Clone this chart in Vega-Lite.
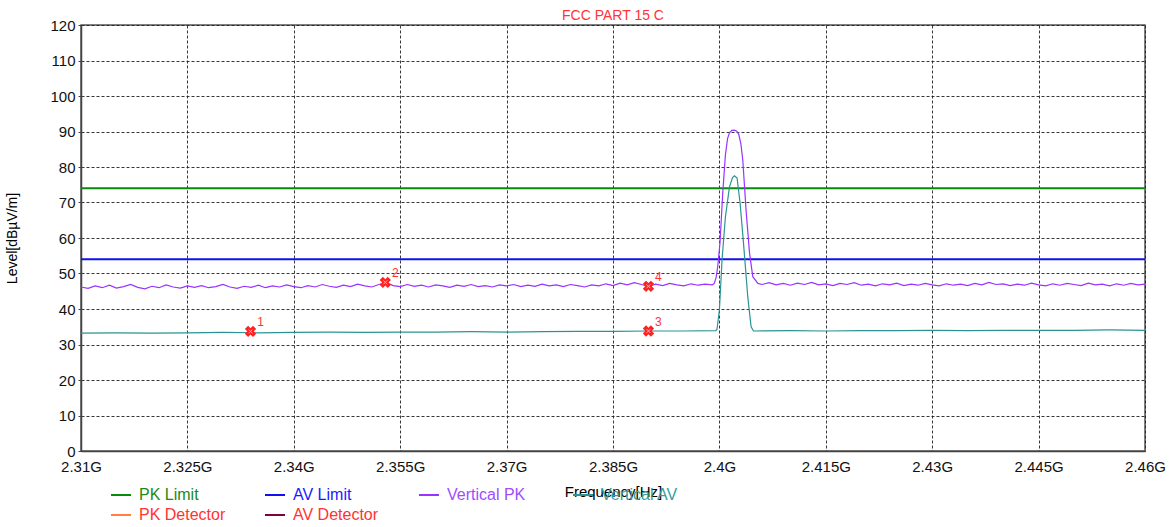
{
  "$schema": "https://vega.github.io/schema/vega-lite/v6.json",
  "width": 1064,
  "height": 426,
  "autosize": {"type": "none"},
  "padding": {"left": 81, "top": 25, "right": 28, "bottom": 76},
  "background": "white",
  "config": {
    "font": "Liberation Sans",
    "view": {"stroke": "#555", "strokeWidth": 1.5}
  },
  "title": {"text": "FCC PART 15 C", "color": "#ff3333", "fontSize": 14, "fontWeight": "normal", "font": "Liberation Sans", "offset": -5, "anchor": "middle"},
  "datasets": {
    "limits": [
      {"series": "PK Limit", "freq": 2.31, "level": 74},
      {"series": "PK Limit", "freq": 2.46, "level": 74},
      {"series": "AV Limit", "freq": 2.31, "level": 54},
      {"series": "AV Limit", "freq": 2.46, "level": 54}
    ],
    "traces": [
      {"series": "Vertical AV", "freq": 2.310, "level": 33.2},
      {"series": "Vertical AV", "freq": 2.315, "level": 33.3},
      {"series": "Vertical AV", "freq": 2.320, "level": 33.2},
      {"series": "Vertical AV", "freq": 2.325, "level": 33.3},
      {"series": "Vertical AV", "freq": 2.330, "level": 33.4},
      {"series": "Vertical AV", "freq": 2.335, "level": 33.3},
      {"series": "Vertical AV", "freq": 2.340, "level": 33.4},
      {"series": "Vertical AV", "freq": 2.345, "level": 33.5},
      {"series": "Vertical AV", "freq": 2.350, "level": 33.4},
      {"series": "Vertical AV", "freq": 2.355, "level": 33.5},
      {"series": "Vertical AV", "freq": 2.360, "level": 33.5},
      {"series": "Vertical AV", "freq": 2.365, "level": 33.6},
      {"series": "Vertical AV", "freq": 2.370, "level": 33.5},
      {"series": "Vertical AV", "freq": 2.375, "level": 33.6},
      {"series": "Vertical AV", "freq": 2.380, "level": 33.7},
      {"series": "Vertical AV", "freq": 2.385, "level": 33.7},
      {"series": "Vertical AV", "freq": 2.390, "level": 33.8},
      {"series": "Vertical AV", "freq": 2.395, "level": 33.8},
      {"series": "Vertical AV", "freq": 2.3995, "level": 33.9},
      {"series": "Vertical AV", "freq": 2.39966, "level": 34.3},
      {"series": "Vertical AV", "freq": 2.4, "level": 39.7},
      {"series": "Vertical AV", "freq": 2.40037, "level": 53.8},
      {"series": "Vertical AV", "freq": 2.40085, "level": 66.0},
      {"series": "Vertical AV", "freq": 2.40142, "level": 74.4},
      {"series": "Vertical AV", "freq": 2.40185, "level": 77.0},
      {"series": "Vertical AV", "freq": 2.40212, "level": 77.5},
      {"series": "Vertical AV", "freq": 2.40249, "level": 76.9},
      {"series": "Vertical AV", "freq": 2.40292, "level": 69.8},
      {"series": "Vertical AV", "freq": 2.4034, "level": 58.5},
      {"series": "Vertical AV", "freq": 2.404, "level": 43.4},
      {"series": "Vertical AV", "freq": 2.40447, "level": 35.0},
      {"series": "Vertical AV", "freq": 2.40481, "level": 33.8},
      {"series": "Vertical AV", "freq": 2.410, "level": 33.9},
      {"series": "Vertical AV", "freq": 2.415, "level": 33.8},
      {"series": "Vertical AV", "freq": 2.420, "level": 33.9},
      {"series": "Vertical AV", "freq": 2.425, "level": 33.9},
      {"series": "Vertical AV", "freq": 2.430, "level": 34.0},
      {"series": "Vertical AV", "freq": 2.435, "level": 33.9},
      {"series": "Vertical AV", "freq": 2.440, "level": 34.0},
      {"series": "Vertical AV", "freq": 2.445, "level": 34.0},
      {"series": "Vertical AV", "freq": 2.450, "level": 34.0},
      {"series": "Vertical AV", "freq": 2.455, "level": 34.1},
      {"series": "Vertical AV", "freq": 2.460, "level": 34.0},

      {"series": "Vertical PK", "freq": 2.310, "level": 46.2},
      {"series": "Vertical PK", "freq": 2.311, "level": 45.8},
      {"series": "Vertical PK", "freq": 2.312, "level": 46.5},
      {"series": "Vertical PK", "freq": 2.313, "level": 46.0},
      {"series": "Vertical PK", "freq": 2.314, "level": 46.7},
      {"series": "Vertical PK", "freq": 2.315, "level": 45.9},
      {"series": "Vertical PK", "freq": 2.316, "level": 46.3},
      {"series": "Vertical PK", "freq": 2.317, "level": 46.9},
      {"series": "Vertical PK", "freq": 2.318, "level": 46.1},
      {"series": "Vertical PK", "freq": 2.319, "level": 45.7},
      {"series": "Vertical PK", "freq": 2.320, "level": 46.4},
      {"series": "Vertical PK", "freq": 2.321, "level": 46.0},
      {"series": "Vertical PK", "freq": 2.322, "level": 46.8},
      {"series": "Vertical PK", "freq": 2.323, "level": 46.2},
      {"series": "Vertical PK", "freq": 2.324, "level": 45.9},
      {"series": "Vertical PK", "freq": 2.325, "level": 46.5},
      {"series": "Vertical PK", "freq": 2.326, "level": 46.1},
      {"series": "Vertical PK", "freq": 2.327, "level": 46.6},
      {"series": "Vertical PK", "freq": 2.328, "level": 46.0},
      {"series": "Vertical PK", "freq": 2.329, "level": 46.3},
      {"series": "Vertical PK", "freq": 2.330, "level": 46.9},
      {"series": "Vertical PK", "freq": 2.331, "level": 46.2},
      {"series": "Vertical PK", "freq": 2.332, "level": 45.8},
      {"series": "Vertical PK", "freq": 2.333, "level": 46.4},
      {"series": "Vertical PK", "freq": 2.334, "level": 46.1},
      {"series": "Vertical PK", "freq": 2.335, "level": 46.7},
      {"series": "Vertical PK", "freq": 2.336, "level": 46.0},
      {"series": "Vertical PK", "freq": 2.337, "level": 46.5},
      {"series": "Vertical PK", "freq": 2.338, "level": 46.2},
      {"series": "Vertical PK", "freq": 2.339, "level": 46.8},
      {"series": "Vertical PK", "freq": 2.340, "level": 46.3},
      {"series": "Vertical PK", "freq": 2.341, "level": 46.0},
      {"series": "Vertical PK", "freq": 2.342, "level": 46.6},
      {"series": "Vertical PK", "freq": 2.343, "level": 46.2},
      {"series": "Vertical PK", "freq": 2.344, "level": 46.9},
      {"series": "Vertical PK", "freq": 2.345, "level": 46.4},
      {"series": "Vertical PK", "freq": 2.346, "level": 46.1},
      {"series": "Vertical PK", "freq": 2.347, "level": 46.7},
      {"series": "Vertical PK", "freq": 2.348, "level": 46.3},
      {"series": "Vertical PK", "freq": 2.349, "level": 47.0},
      {"series": "Vertical PK", "freq": 2.350, "level": 46.5},
      {"series": "Vertical PK", "freq": 2.351, "level": 46.2},
      {"series": "Vertical PK", "freq": 2.352, "level": 46.9},
      {"series": "Vertical PK", "freq": 2.353, "level": 47.5},
      {"series": "Vertical PK", "freq": 2.354, "level": 46.6},
      {"series": "Vertical PK", "freq": 2.355, "level": 46.3},
      {"series": "Vertical PK", "freq": 2.356, "level": 46.9},
      {"series": "Vertical PK", "freq": 2.357, "level": 46.4},
      {"series": "Vertical PK", "freq": 2.358, "level": 46.7},
      {"series": "Vertical PK", "freq": 2.359, "level": 46.2},
      {"series": "Vertical PK", "freq": 2.360, "level": 46.8},
      {"series": "Vertical PK", "freq": 2.361, "level": 46.5},
      {"series": "Vertical PK", "freq": 2.362, "level": 46.1},
      {"series": "Vertical PK", "freq": 2.363, "level": 46.7},
      {"series": "Vertical PK", "freq": 2.364, "level": 46.4},
      {"series": "Vertical PK", "freq": 2.365, "level": 46.9},
      {"series": "Vertical PK", "freq": 2.366, "level": 46.3},
      {"series": "Vertical PK", "freq": 2.367, "level": 46.6},
      {"series": "Vertical PK", "freq": 2.368, "level": 46.2},
      {"series": "Vertical PK", "freq": 2.369, "level": 46.8},
      {"series": "Vertical PK", "freq": 2.370, "level": 46.5},
      {"series": "Vertical PK", "freq": 2.371, "level": 46.9},
      {"series": "Vertical PK", "freq": 2.372, "level": 46.3},
      {"series": "Vertical PK", "freq": 2.373, "level": 46.7},
      {"series": "Vertical PK", "freq": 2.374, "level": 46.4},
      {"series": "Vertical PK", "freq": 2.375, "level": 47.0},
      {"series": "Vertical PK", "freq": 2.376, "level": 46.5},
      {"series": "Vertical PK", "freq": 2.377, "level": 46.8},
      {"series": "Vertical PK", "freq": 2.378, "level": 46.3},
      {"series": "Vertical PK", "freq": 2.379, "level": 46.9},
      {"series": "Vertical PK", "freq": 2.380, "level": 46.6},
      {"series": "Vertical PK", "freq": 2.381, "level": 46.2},
      {"series": "Vertical PK", "freq": 2.382, "level": 46.8},
      {"series": "Vertical PK", "freq": 2.383, "level": 46.5},
      {"series": "Vertical PK", "freq": 2.384, "level": 47.1},
      {"series": "Vertical PK", "freq": 2.385, "level": 46.6},
      {"series": "Vertical PK", "freq": 2.386, "level": 47.3},
      {"series": "Vertical PK", "freq": 2.387, "level": 46.8},
      {"series": "Vertical PK", "freq": 2.388, "level": 47.4},
      {"series": "Vertical PK", "freq": 2.389, "level": 46.9},
      {"series": "Vertical PK", "freq": 2.390, "level": 46.4},
      {"series": "Vertical PK", "freq": 2.391, "level": 47.0},
      {"series": "Vertical PK", "freq": 2.392, "level": 46.6},
      {"series": "Vertical PK", "freq": 2.393, "level": 47.2},
      {"series": "Vertical PK", "freq": 2.394, "level": 46.8},
      {"series": "Vertical PK", "freq": 2.395, "level": 46.5},
      {"series": "Vertical PK", "freq": 2.396, "level": 47.1},
      {"series": "Vertical PK", "freq": 2.397, "level": 46.7},
      {"series": "Vertical PK", "freq": 2.398, "level": 47.0},
      {"series": "Vertical PK", "freq": 2.399, "level": 46.8},
      {"series": "Vertical PK", "freq": 2.39928, "level": 47.2},
      {"series": "Vertical PK", "freq": 2.39955, "level": 49.0},
      {"series": "Vertical PK", "freq": 2.39976, "level": 51.9},
      {"series": "Vertical PK", "freq": 2.40008, "level": 58.5},
      {"series": "Vertical PK", "freq": 2.40047, "level": 72.6},
      {"series": "Vertical PK", "freq": 2.40085, "level": 83.5},
      {"series": "Vertical PK", "freq": 2.40115, "level": 88.0},
      {"series": "Vertical PK", "freq": 2.40142, "level": 89.6},
      {"series": "Vertical PK", "freq": 2.40175, "level": 90.3},
      {"series": "Vertical PK", "freq": 2.40212, "level": 90.4},
      {"series": "Vertical PK", "freq": 2.40245, "level": 90.1},
      {"series": "Vertical PK", "freq": 2.40273, "level": 89.2},
      {"series": "Vertical PK", "freq": 2.40303, "level": 86.5},
      {"series": "Vertical PK", "freq": 2.4033, "level": 81.9},
      {"series": "Vertical PK", "freq": 2.40376, "level": 67.8},
      {"series": "Vertical PK", "freq": 2.40425, "level": 55.7},
      {"series": "Vertical PK", "freq": 2.40471, "level": 49.1},
      {"series": "Vertical PK", "freq": 2.40542, "level": 47.2},
      {"series": "Vertical PK", "freq": 2.406, "level": 46.9},
      {"series": "Vertical PK", "freq": 2.407, "level": 47.4},
      {"series": "Vertical PK", "freq": 2.408, "level": 46.8},
      {"series": "Vertical PK", "freq": 2.409, "level": 47.2},
      {"series": "Vertical PK", "freq": 2.410, "level": 46.7},
      {"series": "Vertical PK", "freq": 2.411, "level": 47.3},
      {"series": "Vertical PK", "freq": 2.412, "level": 46.9},
      {"series": "Vertical PK", "freq": 2.413, "level": 47.5},
      {"series": "Vertical PK", "freq": 2.414, "level": 46.8},
      {"series": "Vertical PK", "freq": 2.415, "level": 47.1},
      {"series": "Vertical PK", "freq": 2.416, "level": 46.6},
      {"series": "Vertical PK", "freq": 2.417, "level": 47.2},
      {"series": "Vertical PK", "freq": 2.418, "level": 46.9},
      {"series": "Vertical PK", "freq": 2.419, "level": 47.4},
      {"series": "Vertical PK", "freq": 2.420, "level": 46.7},
      {"series": "Vertical PK", "freq": 2.421, "level": 47.0},
      {"series": "Vertical PK", "freq": 2.422, "level": 46.5},
      {"series": "Vertical PK", "freq": 2.423, "level": 47.1},
      {"series": "Vertical PK", "freq": 2.424, "level": 46.8},
      {"series": "Vertical PK", "freq": 2.425, "level": 47.3},
      {"series": "Vertical PK", "freq": 2.426, "level": 46.6},
      {"series": "Vertical PK", "freq": 2.427, "level": 47.0},
      {"series": "Vertical PK", "freq": 2.428, "level": 46.7},
      {"series": "Vertical PK", "freq": 2.429, "level": 47.2},
      {"series": "Vertical PK", "freq": 2.430, "level": 46.8},
      {"series": "Vertical PK", "freq": 2.431, "level": 46.5},
      {"series": "Vertical PK", "freq": 2.432, "level": 47.1},
      {"series": "Vertical PK", "freq": 2.433, "level": 46.7},
      {"series": "Vertical PK", "freq": 2.434, "level": 47.0},
      {"series": "Vertical PK", "freq": 2.435, "level": 46.6},
      {"series": "Vertical PK", "freq": 2.436, "level": 47.2},
      {"series": "Vertical PK", "freq": 2.437, "level": 46.8},
      {"series": "Vertical PK", "freq": 2.438, "level": 47.5},
      {"series": "Vertical PK", "freq": 2.439, "level": 46.9},
      {"series": "Vertical PK", "freq": 2.440, "level": 47.1},
      {"series": "Vertical PK", "freq": 2.441, "level": 46.6},
      {"series": "Vertical PK", "freq": 2.442, "level": 47.0},
      {"series": "Vertical PK", "freq": 2.443, "level": 46.7},
      {"series": "Vertical PK", "freq": 2.444, "level": 47.3},
      {"series": "Vertical PK", "freq": 2.445, "level": 46.8},
      {"series": "Vertical PK", "freq": 2.446, "level": 46.5},
      {"series": "Vertical PK", "freq": 2.447, "level": 47.1},
      {"series": "Vertical PK", "freq": 2.448, "level": 46.7},
      {"series": "Vertical PK", "freq": 2.449, "level": 47.2},
      {"series": "Vertical PK", "freq": 2.450, "level": 46.9},
      {"series": "Vertical PK", "freq": 2.451, "level": 46.6},
      {"series": "Vertical PK", "freq": 2.452, "level": 47.3},
      {"series": "Vertical PK", "freq": 2.453, "level": 46.8},
      {"series": "Vertical PK", "freq": 2.454, "level": 47.0},
      {"series": "Vertical PK", "freq": 2.455, "level": 46.5},
      {"series": "Vertical PK", "freq": 2.456, "level": 47.1},
      {"series": "Vertical PK", "freq": 2.457, "level": 46.7},
      {"series": "Vertical PK", "freq": 2.458, "level": 47.2},
      {"series": "Vertical PK", "freq": 2.459, "level": 46.8},
      {"series": "Vertical PK", "freq": 2.460, "level": 47.0}
    ],
    "markers": [
      {"id": "1", "freq": 2.3339, "level": 33.7},
      {"id": "2", "freq": 2.3529, "level": 47.5},
      {"id": "3", "freq": 2.39, "level": 33.8},
      {"id": "4", "freq": 2.39, "level": 46.4}
    ]
  },
  "encoding": {
    "x": {
      "field": "freq", "type": "quantitative",
      "scale": {"domain": [2.31, 2.46], "nice": false, "zero": false},
      "axis": {
        "orient": "bottom",
        "values": [2.31, 2.325, 2.34, 2.355, 2.37, 2.385, 2.4, 2.415, 2.43, 2.445, 2.46],
        "labelExpr": "datum.value + 'G'",
        "title": "Frequency[Hz]",
        "titleFontSize": 15, "titleFontWeight": "normal", "titleColor": "#000",
        "titlePadding": 10,
        "labelFontSize": 15, "labelColor": "#111", "labelPadding": 8,
        "labelFlush": false, "labelOverlap": false,
        "ticks": false,
        "domainColor": "#444", "domainWidth": 1.5,
        "grid": true, "gridColor": "#222", "gridDash": [3, 2], "gridWidth": 1, "gridOpacity": 0.9
      }
    },
    "y": {
      "field": "level", "type": "quantitative",
      "scale": {"domain": [0, 120], "nice": false},
      "axis": {
        "orient": "left",
        "values": [0, 10, 20, 30, 40, 50, 60, 70, 80, 90, 100, 110, 120],
        "title": "Level[dBµV/m]",
        "titleFontSize": 14, "titleFontWeight": "normal", "titleColor": "#000",
        "titlePadding": 30,
        "labelFontSize": 15, "labelColor": "#111", "labelPadding": 3, "labelOverlap": false,
        "tickSize": 3, "tickColor": "#444",
        "domainColor": "#444", "domainWidth": 1.5,
        "grid": true, "gridColor": "#222", "gridDash": [3, 2], "gridWidth": 1, "gridOpacity": 0.9
      }
    }
  },
  "layer": [
    {
      "data": {"name": "limits"},
      "mark": {"type": "line", "strokeWidth": 2},
      "encoding": {
        "stroke": {
          "field": "series", "type": "nominal",
          "scale": {"domain": ["PK Limit", "AV Limit", "Vertical PK", "Vertical AV", "PK Detector", "AV Detector"], "range": ["#0a8a0a", "#1010f0", "#9933ff", "#2a9494", "#ff8040", "#800040"]},
          "legend": {
            "title": null, "orient": "none", "legendX": 29, "legendY": 459,
            "direction": "horizontal", "columns": 4, "gridAlign": "all", "columnPadding": 35, "rowPadding": 1,
            "symbolType": "stroke", "symbolSize": 400, "symbolStrokeWidth": 2,
            "labelFontSize": 16, "labelFont": "Liberation Sans", "labelOffset": 7, "labelLimit": 200,
            "padding": 0,
            "encode": {
              "labels": {"update": {"fill": {"signal": "{'PK Limit':'#1a8a1a','AV Limit':'#1a1aff','Vertical PK':'#a04dff','Vertical AV':'#33a0a0','PK Detector':'#ff3333','AV Detector':'#ff3333'}[datum.label]"}}}
            }
          }
        }
      }
    },
    {
      "data": {"name": "traces"},
      "mark": {"type": "line", "strokeWidth": 1.2},
      "encoding": {
        "stroke": {"field": "series", "type": "nominal"}
      }
    },
    {
      "data": {"name": "markers"},
      "mark": {"type": "point", "shape": "cross", "angle": 45, "filled": true, "color": "#ff2020", "size": 130, "opacity": 1}
    },
    {
      "data": {"name": "markers"},
      "mark": {"type": "point", "shape": "M-0.6,-0.6L0.6,0.6M0.6,-0.6L-0.6,0.6", "filled": false, "stroke": "#ffb0b0", "strokeWidth": 1, "size": 40, "opacity": 1}
    },
    {
      "data": {"name": "markers"},
      "mark": {"type": "text", "color": "#ff3333", "fontSize": 12, "dx": 10, "dy": -9, "font": "Liberation Sans"},
      "encoding": {"text": {"field": "id"}}
    }
  ]
}
